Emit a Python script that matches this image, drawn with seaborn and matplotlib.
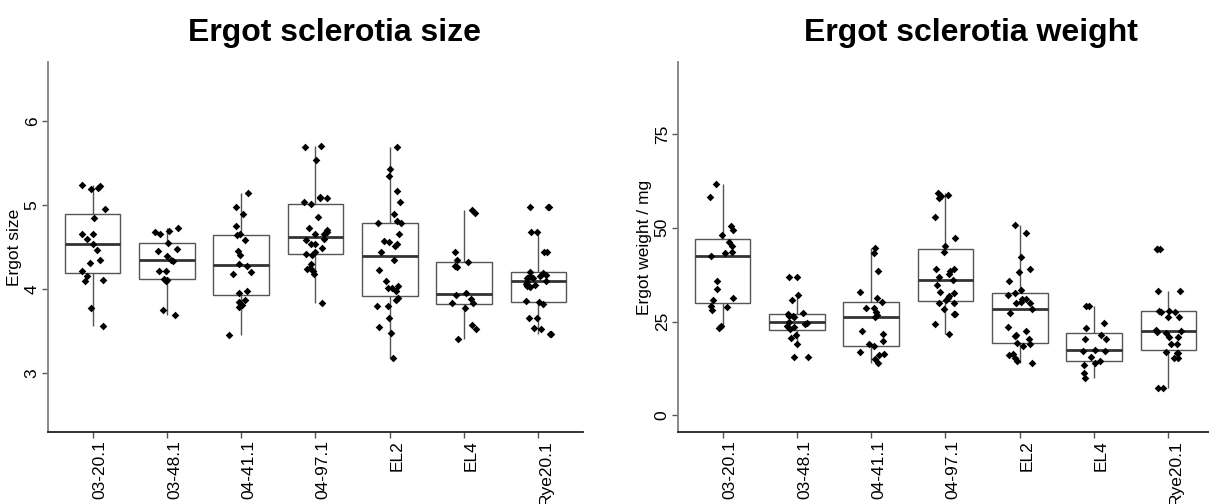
import numpy as np
import pandas as pd
import matplotlib
matplotlib.use("Agg")
import matplotlib.pyplot as plt
import seaborn as sns

# ergot lines on the x axis
lines = ["03-20.1", "03-48.1", "04-41.1", "04-97.1", "EL2", "EL4", "Rye20.1"]

# sclerotia size per line
size_0320 = [5.24, 5.23, 5.19, 5.20, 4.95, 4.84, 4.66, 4.65, 4.59, 4.53, 4.47, 4.35, 4.31,
             4.22, 4.16, 4.11, 4.09, 3.77, 3.56]
size_0348 = [4.68, 4.69, 4.73, 4.65, 4.55, 4.48, 4.45, 4.39, 4.33, 4.34, 4.22, 4.22, 4.11,
             4.12, 4.10, 3.75, 3.69]
size_0441 = [5.14, 4.97, 4.89, 4.75, 4.66, 4.64, 4.58, 4.45, 4.41, 4.28, 4.30, 4.20, 4.18,
             3.98, 3.95, 3.85, 3.87, 3.81, 3.79, 3.45]
size_0497 = [5.69, 5.70, 5.53, 5.10, 5.08, 5.08, 5.03, 5.01, 4.86, 4.73, 4.70, 4.68, 4.65,
             4.65, 4.60, 4.58, 4.54, 4.53, 4.49, 4.44, 4.42, 4.40, 4.30, 4.25, 4.24, 4.21,
             4.18, 3.84]
size_el2 = [5.69, 5.43, 5.35, 5.17, 5.04, 4.89, 4.81, 4.79, 4.78, 4.65, 4.57, 4.56, 4.53,
            4.51, 4.44, 4.34, 4.23, 4.09, 4.04, 4.01, 4.01, 3.98, 3.89, 3.87, 3.80, 3.80,
            3.65, 3.55, 3.48, 3.18]
size_el4 = [4.94, 4.91, 4.44, 4.34, 4.32, 4.28, 4.26, 3.95, 3.93, 3.88, 3.84, 3.84, 3.78,
            3.57, 3.53, 3.41]
size_rye = [4.97, 4.97, 4.97, 4.68, 4.68, 4.44, 4.44, 4.20, 4.19, 4.17, 4.16, 4.15, 4.13,
            4.13, 4.10, 4.08, 4.06, 4.05, 4.04, 4.02, 3.86, 3.85, 3.82, 3.66, 3.66, 3.54,
            3.52, 3.46, 3.46]

# sclerotia weight in mg per line (right panel)
weight_0320 = [61.7, 58.3, 50.5, 49.4, 48.0, 46.2, 45.1, 43.3, 43.5, 42.5, 35.9, 33.7, 30.8,
               31.2, 29.2, 28.8, 28.1, 23.4, 23.8]
weight_0348 = [36.9, 36.9, 32.1, 30.7, 27.3, 27.0, 26.6, 26.4, 26.1, 25.0, 24.6, 24.3, 23.9,
               23.5, 23.1, 21.3, 20.6, 19.0, 15.5, 15.5]
weight_0441 = [44.5, 43.4, 38.4, 33.0, 31.3, 30.1, 28.7, 28.5, 27.5, 26.7, 26.3, 22.4, 21.8,
               19.8, 19.0, 18.5, 17.0, 16.3, 16.1, 15.1, 14.0]
weight_0497 = [59.2, 58.5, 58.0, 58.8, 53.0, 47.2, 45.2, 43.5, 38.9, 38.6, 39.1, 37.6, 37.0,
               36.2, 34.7, 32.5, 31.3, 32.8, 30.8, 31.7, 30.0, 30.0, 28.3, 27.0, 27.0, 24.4,
               21.7]
weight_el2 = [50.7, 48.7, 42.1, 38.2, 38.9, 35.8, 33.5, 32.7, 32.1, 31.1, 30.1, 29.9, 31.1,
              30.0, 28.3, 27.3, 23.5, 22.6, 19.3, 21.4, 20.4, 21.1, 19.0, 18.5, 15.3, 16.2,
              16.4, 14.0, 14.5]
weight_el4 = [29.2, 29.2, 24.6, 23.4, 21.4, 20.4, 20.4, 17.4, 17.2, 17.2, 15.6, 14.6, 13.9,
              13.4, 11.2, 10.0]
weight_rye = [44.3, 44.3, 44.3, 33.2, 33.2, 27.9, 27.8, 27.6, 27.5, 26.3, 26.3, 22.7, 22.5,
              22.3, 22.0, 20.8, 20.8, 19.0, 19.0, 17.0, 16.5, 16.5, 15.4, 15.3, 7.4, 7.4]

size_groups = [size_0320, size_0348, size_0441, size_0497, size_el2, size_el4, size_rye]
weight_groups = [weight_0320, weight_0348, weight_0441, weight_0497, weight_el2, weight_el4,
                 weight_rye]


def long_table(groups, col):
    parts = [pd.DataFrame({"line": name, col: vals}) for name, vals in zip(lines, groups)]
    return pd.concat(parts, ignore_index=True)


df_size = long_table(size_groups, "size")
df_weight = long_table(weight_groups, "weight")

sns.set_style("white")
plt.rcParams["font.family"] = ["Liberation Sans", "DejaVu Sans"]
plt.rcParams["text.color"] = "black"
plt.rcParams["axes.labelcolor"] = "black"
plt.rcParams["xtick.labelcolor"] = "black"
plt.rcParams["ytick.labelcolor"] = "black"


def draw_panel(ax, df, col, title, ylabel, ylim, yticks, title_x):
    sns.boxplot(data=df, x="line", y=col, order=lines, ax=ax, width=0.75,
                color="white", linecolor="#555555", linewidth=1.0,
                showfliers=False, showcaps=False,
                medianprops=dict(color="#333333", linewidth=2.0))
    sns.stripplot(data=df, x="line", y=col, order=lines, ax=ax, jitter=0.17,
                  color="black", marker="D", size=3.9, linewidth=0)

    ax.set_xlim(-0.6, 6.6)
    ax.set_ylim(*ylim)
    ax.set_yticks(yticks)
    ax.set_xlabel("")
    ax.set_ylabel(ylabel, fontsize=12.5, labelpad=2, color="black")

    for s in ["top", "right"]:
        ax.spines[s].set_visible(False)
    ax.spines["left"].set_color("#808080")
    ax.spines["left"].set_linewidth(1.3)
    ax.spines["bottom"].set_color("#222222")
    ax.spines["bottom"].set_linewidth(1.3)

    ax.tick_params(axis="both", direction="out", length=4, width=1, color="#555555",
                   labelcolor="black", labelsize=12.5, pad=2, left=True, bottom=True)
    for lab in ax.get_yticklabels():
        lab.set_rotation(90)
        lab.set_va("center")
    for lab in ax.get_xticklabels():
        lab.set_rotation(90)
        lab.set_ha("left")
        lab.set_va("top")

    ax.text(title_x, 1.057, title, transform=ax.transAxes, ha="center", va="baseline",
            fontsize=23, fontweight="bold", color="black")


np.random.seed(7)
fig = plt.figure(figsize=(12.09, 5.04), dpi=100)
ax1 = fig.add_axes([0.0397, 0.1429, 0.4425, 0.734])
ax2 = fig.add_axes([0.5608, 0.1429, 0.4425, 0.734])

draw_panel(ax1, df_size, "size", "Ergot sclerotia size", "Ergot size",
           (2.30, 6.70), [3, 4, 5, 6], 0.536)
draw_panel(ax2, df_weight, "weight", "Ergot sclerotia weight", "Ergot weight / mg",
           (-4.45, 94.2), [0, 25, 50, 75], 0.548)

fig.savefig("out.png", dpi=100)
